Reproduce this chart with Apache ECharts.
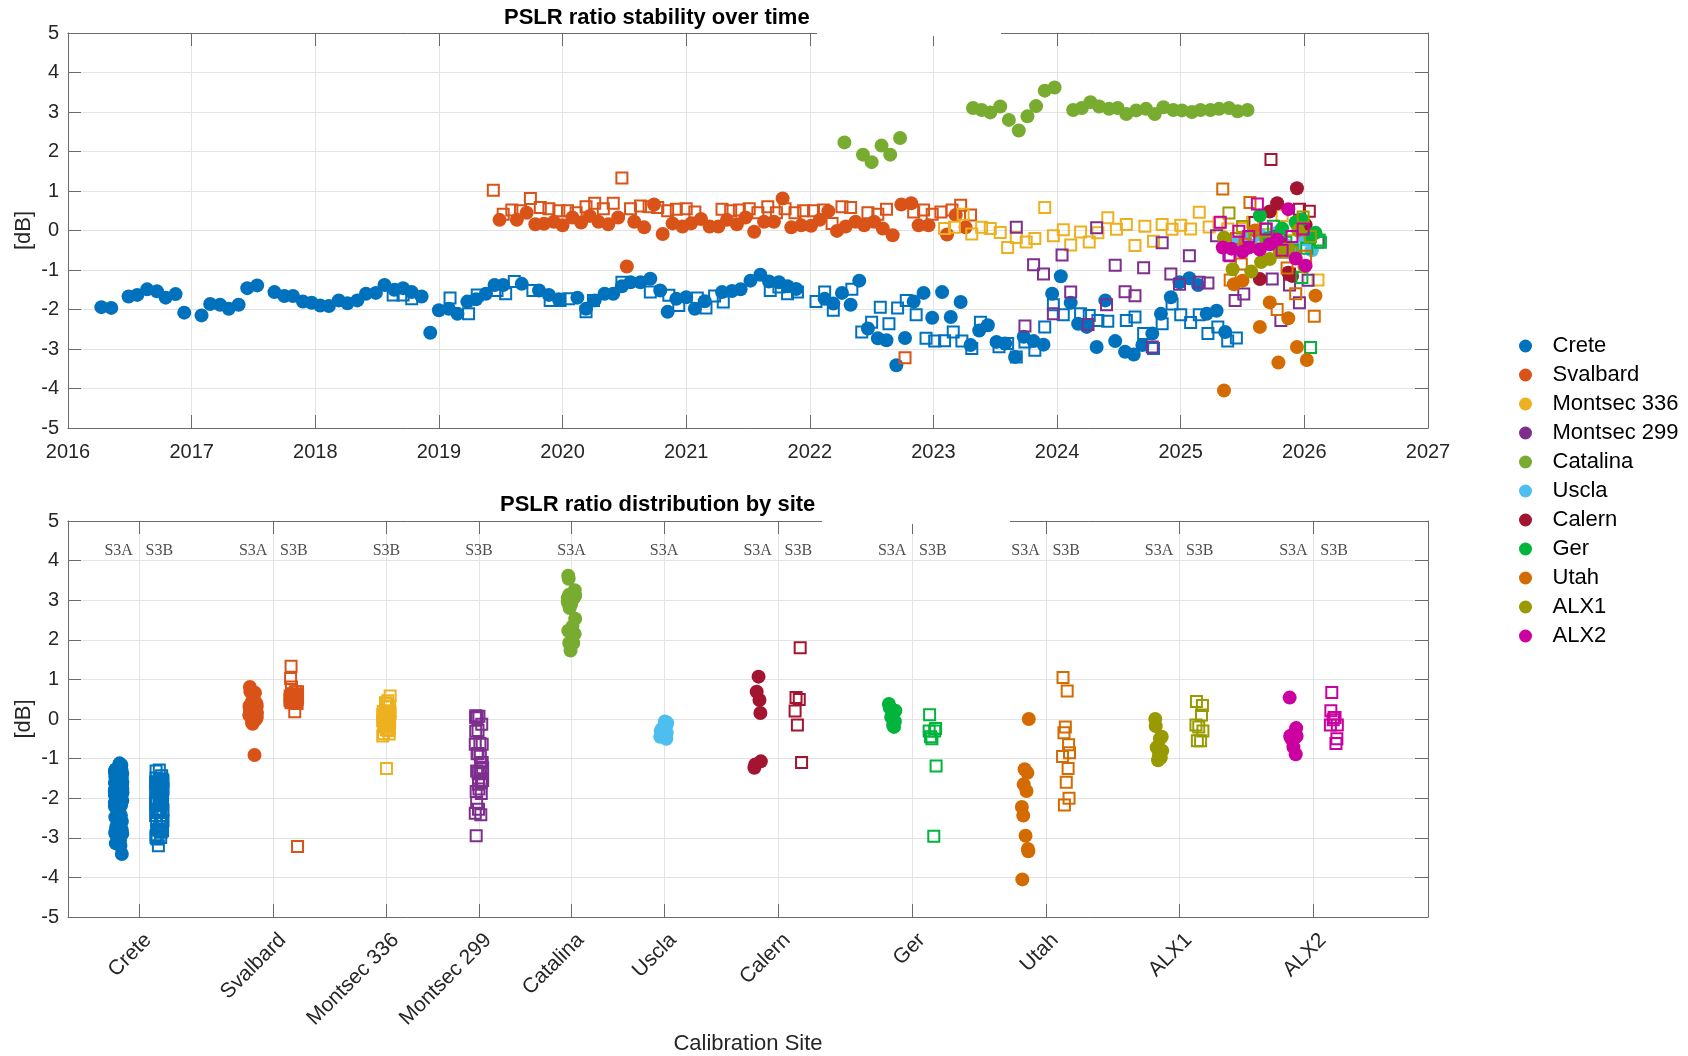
<!DOCTYPE html>
<html>
<head>
<meta charset="utf-8">
<script src="https://cdn.jsdelivr.net/npm/echarts@6/dist/echarts.min.js"></script>
<style>
  html, body { margin: 0; padding: 0; background: #fff; }
  #chart { width: 1688px; height: 1056px; }
</style>
</head>
<body>
<div id="chart"></div>
<script>
// site names, colours and positions on the distribution axis
const SITES = ['Crete', 'Svalbard', 'Montsec 336', 'Montsec 299', 'Catalina', 'Uscla',
               'Calern', 'Ger', 'Utah', 'ALX1', 'ALX2'];
const COLORS = ['#0072BD', '#D95319', '#EDB120', '#7E2F8E', '#77AC30', '#4DBEEE',
                '#A2142F', '#00B43C', '#D36B00', '#999900', '#CC00A0'];
const SITE_POS = [0.767, 2.221, 3.442, 4.442, 5.442, 6.442, 7.674, 9.128, 10.570, 12.012, 13.465];
const YEAR_MIN = 2016, YEAR_MAX = 2027;
const DB_MIN = -5, DB_MAX = 5;

// [decimal year, dB]  filled = S3A, open square = S3B
const creteS3A = [
  [2016.27,-1.94],[2016.35,-1.96],[2016.49,-1.67],[2016.56,-1.63],[2016.64,-1.49],[2016.72,-1.54],
  [2016.79,-1.70],[2016.87,-1.61],[2016.94,-2.08],[2017.08,-2.15],[2017.15,-1.86],[2017.23,-1.88],
  [2017.30,-1.98],[2017.38,-1.88],[2017.45,-1.46],[2017.53,-1.39],[2017.67,-1.56],[2017.75,-1.66],
  [2017.82,-1.66],[2017.90,-1.80],[2017.97,-1.83],[2018.04,-1.90],[2018.11,-1.91],[2018.19,-1.77],
  [2018.26,-1.84],[2018.34,-1.77],[2018.41,-1.60],[2018.49,-1.58],[2018.56,-1.38],[2018.64,-1.50],
  [2018.71,-1.46],[2018.78,-1.56],[2018.86,-1.67],[2018.93,-2.59],[2019.00,-2.02],[2019.08,-1.98],
  [2019.15,-2.11],[2019.23,-1.80],[2019.30,-1.74],[2019.38,-1.60],[2019.45,-1.38],[2019.52,-1.38],
  [2019.67,-1.35],[2019.81,-1.52],[2019.89,-1.63],[2019.97,-1.74],[2020.12,-1.70],[2020.19,-1.98],
  [2020.26,-1.77],[2020.34,-1.60],[2020.41,-1.60],[2020.48,-1.41],[2020.55,-1.31],[2020.63,-1.31],
  [2020.71,-1.22],[2020.79,-1.52],[2020.85,-2.06],[2020.92,-1.73],[2021.00,-1.69],[2021.07,-1.98],
  [2021.15,-1.79],[2021.29,-1.56],[2021.37,-1.53],[2021.44,-1.49],[2021.52,-1.27],[2021.60,-1.12],
  [2021.67,-1.29],[2021.75,-1.31],[2021.82,-1.41],[2021.89,-1.48],[2022.12,-1.73],[2022.19,-1.85],
  [2022.26,-1.58],[2022.33,-1.88],[2022.40,-1.27],[2022.47,-2.48],[2022.55,-2.73],[2022.62,-2.78],
  [2022.70,-3.41],[2022.77,-2.72],[2022.84,-1.80],[2022.92,-1.58],[2022.99,-2.21],[2023.07,-1.56],
  [2023.14,-2.19],[2023.22,-1.81],[2023.30,-2.90],[2023.37,-2.53],[2023.44,-2.40],[2023.51,-2.82],
  [2023.58,-2.86],[2023.66,-3.20],[2023.73,-2.69],[2023.81,-2.80],[2023.89,-2.89],[2023.96,-1.60],
  [2024.03,-1.16],[2024.11,-1.83],[2024.17,-2.36],[2024.24,-2.44],[2024.32,-2.95],[2024.39,-1.77],
  [2024.47,-2.80],[2024.55,-3.07],[2024.62,-3.14],[2024.69,-2.90],[2024.77,-2.61],[2024.84,-2.11],
  [2024.92,-1.69],[2024.99,-1.31],[2025.07,-1.21],[2025.14,-1.38],[2025.21,-2.11],[2025.29,-2.03],
  [2025.36,-2.57]
];
const creteS3B = [
  [2018.63,-1.63],[2018.71,-1.63],[2018.78,-1.73],[2019.09,-1.71],[2019.24,-2.11],[2019.31,-1.63],
  [2019.47,-1.52],[2019.54,-1.60],[2019.61,-1.29],[2019.76,-1.52],[2019.90,-1.77],[2019.98,-1.77],
  [2020.05,-1.73],[2020.19,-2.06],[2020.25,-1.77],[2020.48,-1.31],[2020.71,-1.56],[2020.86,-1.64],
  [2020.94,-1.90],[2021.09,-1.71],[2021.16,-1.96],[2021.23,-1.66],[2021.30,-1.81],[2021.68,-1.52],
  [2021.75,-1.43],[2021.82,-1.60],[2021.90,-1.56],[2022.05,-1.80],[2022.12,-1.56],[2022.19,-2.02],
  [2022.34,-1.49],[2022.42,-2.57],[2022.50,-2.32],[2022.57,-1.94],[2022.64,-2.36],[2022.71,-1.96],
  [2022.78,-1.77],[2022.86,-2.13],[2022.94,-2.73],[2023.01,-2.80],[2023.09,-2.79],[2023.16,-2.57],
  [2023.23,-2.80],[2023.31,-2.99],[2023.38,-2.32],[2023.53,-2.94],[2023.60,-2.86],[2023.67,-3.20],
  [2023.74,-2.82],[2023.82,-3.03],[2023.90,-2.44],[2023.97,-1.88],[2024.05,-2.13],[2024.19,-2.11],
  [2024.26,-2.15],[2024.33,-2.28],[2024.41,-2.30],[2024.56,-2.28],[2024.63,-2.19],[2024.70,-2.61],
  [2024.78,-2.99],[2024.85,-2.36],[2024.93,-1.86],[2025.00,-2.13],[2025.08,-2.33],[2025.15,-2.13],
  [2025.22,-2.61],[2025.30,-2.44],[2025.38,-2.80],[2025.45,-2.72]
];
const svalbardS3A = [
  [2019.49,0.27],[2019.63,0.27],[2019.71,0.45],[2019.78,0.16],[2019.85,0.17],[2019.93,0.22],
  [2020.00,0.13],[2020.08,0.33],[2020.15,0.20],[2020.22,0.37],[2020.29,0.22],[2020.37,0.16],
  [2020.45,0.33],[2020.52,-0.91],[2020.58,0.22],[2020.66,0.08],[2020.74,0.66],[2020.81,-0.09],
  [2020.89,0.18],[2020.97,0.10],[2021.04,0.18],[2021.12,0.29],[2021.19,0.10],[2021.26,0.10],
  [2021.33,0.27],[2021.41,0.16],[2021.48,0.33],[2021.55,-0.03],[2021.63,0.22],[2021.71,0.22],
  [2021.78,0.81],[2021.85,0.08],[2021.93,0.13],[2022.01,0.12],[2022.08,0.27],[2022.15,0.49],
  [2022.22,-0.01],[2022.29,0.10],[2022.37,0.22],[2022.44,0.13],[2022.52,0.22],[2022.59,0.05],
  [2022.67,-0.12],[2022.74,0.66],[2022.82,0.69],[2022.88,0.13],[2022.96,0.13],[2023.11,-0.10],
  [2023.18,0.39],[2023.26,0.08]
];
const svalbardS3B = [
  [2019.44,1.02],[2019.52,0.41],[2019.59,0.52],[2019.66,0.50],[2019.74,0.81],[2019.82,0.58],
  [2019.89,0.55],[2019.97,0.50],[2020.04,0.50],[2020.11,0.45],[2020.19,0.60],[2020.26,0.69],
  [2020.33,0.55],[2020.41,0.69],[2020.48,1.33],[2020.55,0.55],[2020.63,0.62],[2020.70,0.60],
  [2020.77,0.58],[2020.85,0.50],[2020.92,0.54],[2021.00,0.55],[2021.07,0.47],[2021.29,0.54],
  [2021.36,0.50],[2021.43,0.52],[2021.51,0.55],[2021.58,0.45],[2021.66,0.60],[2021.73,0.45],
  [2021.80,0.55],[2021.88,0.45],[2021.95,0.50],[2022.03,0.50],[2022.11,0.52],[2022.18,0.18],
  [2022.26,0.60],[2022.33,0.58],[2022.47,0.45],[2022.55,0.41],[2022.62,0.54],[2022.77,-3.22],
  [2022.84,0.47],[2022.92,0.52],[2022.99,0.41],[2023.06,0.47],[2023.15,0.52],[2023.22,0.64],
  [2023.30,0.39]
];
const montsec336S3B = [
  [2023.09,0.05],[2023.17,0.08],[2023.24,0.41],[2023.31,-0.09],[2023.39,0.08],[2023.46,0.05],
  [2023.54,-0.05],[2023.60,-0.43],[2023.67,-0.18],[2023.75,-0.29],[2023.82,-0.20],[2023.90,0.58],
  [2023.97,-0.13],[2024.05,0.02],[2024.11,-0.37],[2024.19,-0.04],[2024.26,-0.29],[2024.33,-0.06],
  [2024.41,0.32],[2024.48,0.03],[2024.56,0.15],[2024.63,-0.38],[2024.71,0.11],[2024.78,-0.27],
  [2024.85,0.15],[2024.93,0.03],[2025.00,0.13],[2025.08,0.04],[2025.15,0.46],[2025.23,0.09],
  [2025.31,0.19],[2025.38,0.04],[2025.50,0.05],[2025.58,0.21],[2025.70,-0.10],[2025.82,0.38],
  [2025.90,-0.25],[2026.00,-0.05],[2026.11,-1.25]
];
const montsec299S3B = [
  [2023.67,0.08],[2023.74,-2.42],[2023.81,-0.87],[2023.89,-1.10],[2023.97,-2.11],[2024.04,-0.62],
  [2024.11,-1.56],[2024.25,-2.38],[2024.32,0.07],[2024.40,-1.88],[2024.47,-0.88],[2024.55,-1.55],
  [2024.63,-1.65],[2024.70,-0.94],[2024.77,-2.95],[2024.85,-0.31],[2024.92,-1.10],[2024.99,-1.36],
  [2025.07,-0.64],[2025.15,-1.31],[2025.22,-1.33],[2025.29,-0.13],[2025.40,-0.64],[2025.44,-1.77],
  [2025.51,-1.61],[2025.69,0.03],[2025.74,-1.23],[2025.81,-2.28],[2025.88,-1.38],[2025.96,-1.83],
  [2025.98,0.04],[2026.03,-1.26],[2026.11,-0.29]
];
const catalinaS3A = [
  [2022.28,2.23],[2022.43,1.92],[2022.50,1.73],[2022.58,2.15],[2022.65,1.92],[2022.73,2.34],
  [2023.32,3.10],[2023.39,3.05],[2023.46,2.99],[2023.54,3.14],[2023.61,2.80],[2023.69,2.53],
  [2023.76,2.89],[2023.83,3.15],[2023.90,3.54],[2023.98,3.62],[2024.13,3.05],[2024.20,3.10],
  [2024.27,3.25],[2024.34,3.14],[2024.42,3.08],[2024.49,3.10],[2024.56,2.95],[2024.64,3.04],
  [2024.72,3.08],[2024.79,2.95],[2024.86,3.12],[2024.94,3.05],[2025.01,3.04],[2025.09,3.00],
  [2025.16,3.05],[2025.24,3.05],[2025.31,3.08],[2025.39,3.10],[2025.46,3.02],[2025.54,3.05]
];
const usclaS3A = [
  [2025.45,-0.30],[2025.52,-0.20],[2025.58,-0.38],[2025.64,-0.10],[2025.70,-0.25],[2025.78,-0.06],
  [2025.84,-0.35],[2025.92,-0.45],[2026.01,-0.23],[2026.06,-0.50]
];
const calernS3A = [
  [2025.64,-1.23],[2025.72,0.48],[2025.78,0.69],[2025.87,-1.07],[2025.90,-1.15],[2025.94,1.07],
  [2026.01,0.15]
];
const calernS3B = [
  [2025.60,0.20],[2025.73,1.80],[2025.80,-0.15],[2025.88,-1.10],[2025.96,0.54],[2026.04,0.49]
];
const gerS3A = [
  [2025.64,0.38],[2025.70,-0.20],[2025.82,0.05],[2025.93,0.21],[2025.98,0.28],[2026.05,-0.15],
  [2026.09,-0.06]
];
const gerS3B = [
  [2025.75,0.11],[2025.85,-0.30],[2025.90,-0.50],[2025.98,-1.19],[2026.02,-0.45],[2026.05,-2.96],
  [2026.12,-0.24],[2026.13,-0.30]
];
const utahS3A = [
  [2025.35,-4.05],[2025.43,-1.36],[2025.50,-1.27],[2025.60,0.00],[2025.64,-2.44],[2025.72,-1.82],
  [2025.79,-3.34],[2025.87,-2.22],[2025.94,-2.95],[2026.02,-3.28],[2026.09,-1.65]
];
const utahS3B = [
  [2025.34,1.05],[2025.40,-1.25],[2025.45,-0.20],[2025.49,-0.85],[2025.52,-0.35],[2025.56,0.71],
  [2025.78,-2.00],[2025.86,-0.95],[2025.93,-1.60],[2026.01,-0.65],[2026.08,-2.17]
];
const alx1S3A = [
  [2025.35,-0.18],[2025.42,-0.98],[2025.57,-1.04],[2025.65,-0.80],[2025.72,-0.72],[2025.80,-0.50],
  [2025.87,-0.45],[2025.95,0.00],[2026.00,-0.92]
];
const alx1S3B = [
  [2025.39,0.44],[2025.50,0.10],[2025.60,-0.20],[2025.70,-0.30],[2025.80,-0.55],[2025.90,-0.55],
  [2025.99,0.34],[2026.05,-0.15]
];
const alx2S3A = [
  [2025.34,-0.43],[2025.41,-0.46],[2025.50,-0.54],[2025.55,-0.43],[2025.64,-0.48],[2025.72,-0.35],
  [2025.78,-0.23],[2025.87,0.54],[2025.93,-0.71],[2026.01,-0.89]
];
const alx2S3B = [
  [2025.32,0.21],[2025.39,-0.62],[2025.47,-0.02],[2025.55,-0.15],[2025.62,0.67],[2025.69,0.04],
  [2025.82,-0.50],[2025.90,-0.15],[2025.99,0.04]
];

// per-site S3A / S3B lists (null = satellite not present)
const S3A = [creteS3A, svalbardS3A, null, null, catalinaS3A, usclaS3A, calernS3A, gerS3A, utahS3A, alx1S3A, alx2S3A];
const S3B = [creteS3B, svalbardS3B, montsec336S3B, montsec299S3B, null, null, calernS3B, gerS3B, utahS3B, alx1S3B, alx2S3B];

// horizontal spread of points inside a site column
const JITTER = [-0.035, 0.02, -0.01, 0.035, -0.025, 0.01, 0.03, -0.04, 0.0, 0.025, -0.02, 0.04, -0.005, 0.015, -0.03];
const SAT_OFFSET = 0.22;
const SAT_LABEL_Y = 4.24;
const LABEL_SHIFT = 0.1;   // rotated site names sit a little right of their tick

const FONT = '"Liberation Sans", Arial, Helvetica, sans-serif';
const AXIS_COLOR = '#6b6b6b';
const TEXT_COLOR = '#262626';
const GRID_COLOR = '#e3e3e3';

const chart = echarts.init(document.getElementById('chart'), null, { renderer: 'canvas' });

function seriesStyle(sat, color) {
  if (sat === 'A') {
    return { symbol: 'circle', symbolSize: 14, itemStyle: { color: color, opacity: 1 } };
  }
  return {
    symbol: 'rect', symbolSize: 11,
    itemStyle: { color: 'rgba(255,255,255,0)', borderColor: color, borderWidth: 2, opacity: 1 }
  };
}

const series = [];
// time series (top)
SITES.forEach((name, s) => {
  [['A', S3A[s]], ['B', S3B[s]]].forEach(([sat, pts]) => {
    if (!pts) return;
    series.push(Object.assign({
      type: 'scatter', name: name, xAxisIndex: 0, yAxisIndex: 0,
      data: pts, silent: true
    }, seriesStyle(sat, COLORS[s])));
  });
});
// distribution by site (bottom)
const satLabels = [];
SITES.forEach((name, s) => {
  const both = S3A[s] && S3B[s];
  [['A', S3A[s], -1], ['B', S3B[s], 1]].forEach(([sat, pts, sign]) => {
    if (!pts) return;
    const cx = SITE_POS[s] + (both ? sign * SAT_OFFSET : 0);
    satLabels.push([cx, SAT_LABEL_Y, 'S3' + sat]);
    series.push(Object.assign({
      type: 'scatter', name: name, xAxisIndex: 2, yAxisIndex: 2,
      data: pts.map((p, i) => [cx + JITTER[i % JITTER.length], p[1]]), silent: true
    }, seriesStyle(sat, COLORS[s])));
  });
});
series.push({
  type: 'scatter', name: 'sat-labels', xAxisIndex: 2, yAxisIndex: 2, silent: true,
  symbolSize: 1, itemStyle: { color: 'rgba(0,0,0,0)' },
  data: satLabels,
  label: {
    show: true, position: 'inside', formatter: p => p.data[2],
    fontFamily: '"Liberation Serif", "DejaVu Serif", serif', fontSize: 16, color: '#222'
  }
});

const lineStyle = { color: AXIS_COLOR, width: 1 };
const axisLine = { show: true, onZero: false, lineStyle: lineStyle };
const tickIn = { show: true, inside: true, length: 13, lineStyle: lineStyle };
const labelStyle = { color: TEXT_COLOR, fontSize: 20, fontFamily: FONT };
const nameStyle = { color: TEXT_COLOR, fontSize: 22, fontFamily: FONT };

function yAxes(grid, name) {
  return [
    {
      type: 'value', gridIndex: grid, min: DB_MIN, max: DB_MAX, interval: 1, position: 'left',
      name: name, nameLocation: 'middle', nameGap: 33, nameMoveOverlap: false, nameTextStyle: nameStyle,
      axisLine: axisLine, axisTick: tickIn,
      axisLabel: Object.assign({ margin: 9 }, labelStyle),
      splitLine: { show: true, lineStyle: { color: GRID_COLOR, width: 1 } }
    },
    {
      type: 'value', gridIndex: grid, min: DB_MIN, max: DB_MAX, interval: 1, position: 'right',
      axisLine: axisLine, axisTick: tickIn,
      axisLabel: { show: false }, splitLine: { show: false }
    }
  ];
}

const labelPos = SITE_POS.map(p => p + LABEL_SHIFT);

chart.setOption({
  animation: false,
  backgroundColor: '#ffffff',
  title: [
    { text: 'PSLR ratio stability over time', left: 504, top: 7, padding: 0,
      textStyle: { fontSize: 22, fontWeight: 'bold', color: '#000', fontFamily: FONT } },
    { text: 'PSLR ratio distribution by site', left: 500, top: 494, padding: 0,
      textStyle: { fontSize: 22, fontWeight: 'bold', color: '#000', fontFamily: FONT } }
  ],
  legend: {
    orient: 'vertical', left: 1514, top: 330, itemWidth: 44, itemHeight: 13, itemGap: 7,
    selectedMode: false,
    textStyle: { fontSize: 22, lineHeight: 22, color: '#000', fontFamily: FONT },
    data: SITES.map((s, i) => ({ name: s, icon: 'circle', itemStyle: { color: COLORS[i], borderWidth: 0 } }))
  },
  grid: [
    { left: 68, top: 33, width: 1360, height: 395, outerBoundsMode: 'none' },
    { left: 68, top: 521, width: 1360, height: 396, outerBoundsMode: 'none' }
  ],
  xAxis: [
    {
      type: 'value', gridIndex: 0, min: YEAR_MIN, max: YEAR_MAX, interval: 1, position: 'bottom',
      axisLine: axisLine, axisTick: tickIn,
      axisLabel: Object.assign({ margin: 14, formatter: v => String(v) }, labelStyle),
      splitLine: { show: true, lineStyle: { color: GRID_COLOR, width: 1 } }
    },
    {
      type: 'value', gridIndex: 0, min: YEAR_MIN, max: YEAR_MAX, interval: 1, position: 'top',
      axisLine: axisLine, axisTick: tickIn,
      axisLabel: { show: false }, splitLine: { show: false }
    },
    {
      type: 'value', gridIndex: 1, min: 0, max: 14.7, position: 'bottom',
      name: 'Calibration Site', nameLocation: 'middle', nameGap: 116, nameTextStyle: nameStyle,
      axisLine: axisLine,
      axisTick: Object.assign({ customValues: SITE_POS }, tickIn),
      axisLabel: Object.assign({
        customValues: labelPos, rotate: 45, margin: 20,
        formatter: v => {
          const i = labelPos.findIndex(p => Math.abs(p - v) < 1e-6);
          return i >= 0 ? SITES[i] : '';
        }
      }, labelStyle, { fontSize: 21 }),
      splitLine: { show: true, lineStyle: { color: GRID_COLOR, width: 1 } }
    },
    {
      type: 'value', gridIndex: 1, min: 0, max: 14.7, position: 'top',
      axisLine: axisLine,
      axisTick: Object.assign({ customValues: SITE_POS }, tickIn),
      axisLabel: { show: false }, splitLine: { show: false }
    }
  ],
  yAxis: yAxes(0, '[dB]').concat(yAxes(1, '[dB]')),
  series: series,
  graphic: [
    { type: 'rect', z: 100, silent: true, shape: { x: 817, y: 30, width: 184, height: 6 }, style: { fill: '#fff' } },
    { type: 'rect', z: 100, silent: true, shape: { x: 822, y: 518, width: 188, height: 6 }, style: { fill: '#fff' } }
  ]
});
</script>
</body>
</html>
